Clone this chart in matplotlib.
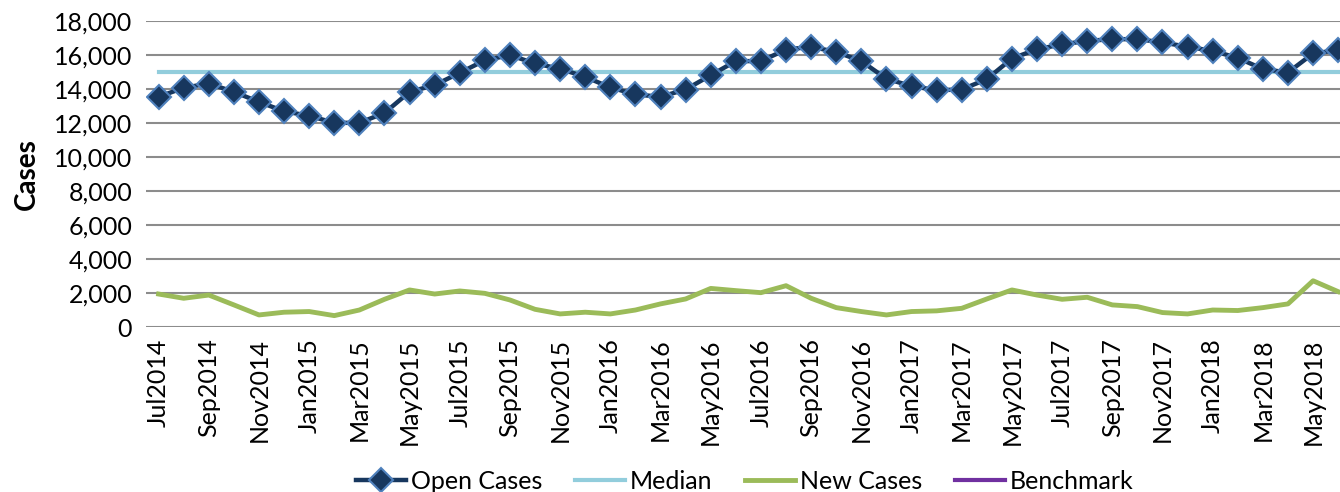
import matplotlib.pyplot as plt
import numpy as np

# monthly labels Jul2014 .. Jun2018
months = ['Jan', 'Feb', 'Mar', 'Apr', 'May', 'Jun',
          'Jul', 'Aug', 'Sep', 'Oct', 'Nov', 'Dec']
labels = []
for i in range(48):
    m = (6 + i) % 12
    y = 2014 + (6 + i) // 12
    labels.append(months[m] + str(y))

open_cases = [13550, 14080, 14330, 13840, 13250, 12700, 12430, 12020, 12020, 12600,
              13840, 14240, 14960, 15700, 16000, 15510, 15200, 14720, 14100, 13690,
              13550, 13980, 14820, 15650, 15650, 16330, 16490, 16190, 15650, 14610,
              14180, 13940, 13980, 14590, 15800, 16350, 16630, 16840, 16940, 16940,
              16750, 16490, 16250, 15840, 15180, 14980, 16100, 16290]
median = [15000] * 48
new_cases = [1950, 1700, 1890, 1310, 720, 880, 920, 680, 1010, 1640,
             2190, 1950, 2130, 1990, 1600, 1050, 780, 880, 780, 1010,
             1370, 1660, 2280, 2150, 2030, 2440, 1700, 1150, 920, 720,
             920, 960, 1110, 1660, 2190, 1890, 1640, 1760, 1310, 1210,
             860, 780, 1010, 980, 1150, 1370, 2730, 2090]
benchmark = [np.nan] * 48

plt.rcParams['font.family'] = ['Lato', 'DejaVu Sans']
fs = 18

x = np.arange(len(labels))

fig = plt.figure(figsize=(13.4, 4.92), dpi=100)
ax = fig.add_axes([0.109, 0.335, 0.899, 0.622])

ax.plot(x, open_cases, color='#17375E', lw=3.2, marker='D', ms=12.5,
        mfc='#17375E', mec='#4F81BD', mew=1.5, label='Open Cases', zorder=4)
ax.plot(x, median, color='#92CDDC', lw=3, label='Median', zorder=3)
ax.plot(x, new_cases, color='#9BBB59', lw=3.5, label='New Cases', zorder=3)
ax.plot(x, benchmark, color='#7030A0', lw=3, label='Benchmark')

ax.set_xlim(-0.5, 47.5)
ax.set_ylim(0, 18000)
ax.set_yticks(range(0, 18001, 2000))
ax.set_yticklabels([f'{v:,}' for v in range(0, 18001, 2000)], fontsize=fs)
ax.set_xticks(x[::2])
ax.set_xticklabels(labels[::2], rotation=90, fontsize=fs)
ax.tick_params(length=0, pad=8)
ax.tick_params(axis='y', pad=10)

ax.grid(axis='y', color='#8C8C8C', lw=1.5)
ax.set_axisbelow(True)
for s in ax.spines.values():
    s.set_visible(False)

ax.set_ylabel('Cases', fontsize=fs + 2, fontweight='bold', labelpad=10)

ax.legend(loc='lower center', bbox_to_anchor=(0.497, -0.59), ncol=4,
          frameon=False, fontsize=fs, handlelength=2, handletextpad=0.2,
          columnspacing=1.3, borderpad=0.1)

fig.savefig('out.png', dpi=100)
